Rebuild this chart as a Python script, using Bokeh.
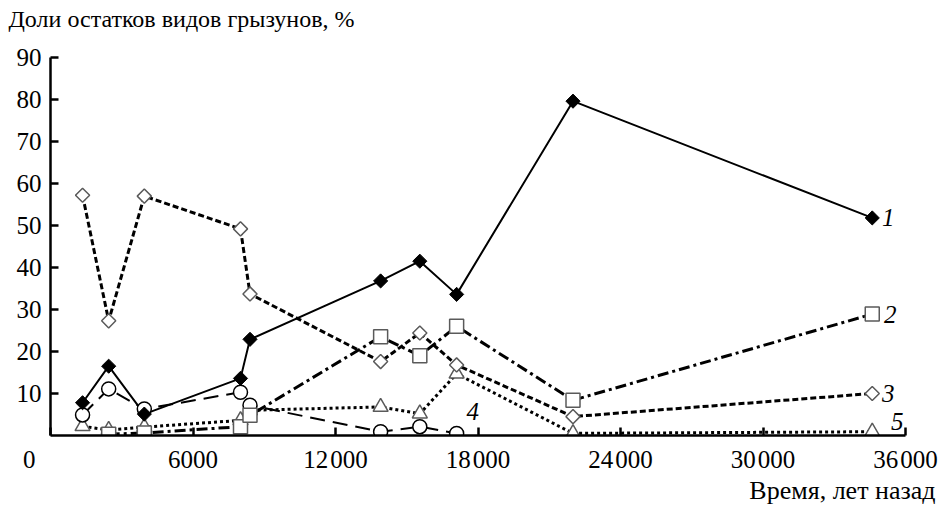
import math
from bokeh.plotting import figure
from bokeh.models import Range1d, FixedTicker, Title, Label
from bokeh.embed import file_html
from bokeh.resources import INLINE

# ---- data ----
years = [1350, 2450, 3950, 8000, 8400, 13900, 15550, 17100, 22000, 34600]
series1 = [7.8, 16.5, 5.1, 13.6, 22.9, 36.8, 41.5, 33.6, 79.6, 51.8]
years2 = [2450, 3950, 8000, 8400, 13900, 15550, 17100, 22000, 34600]
series2 = [0.3, 0.6, 2.1, 4.8, 23.5, 19.0, 26.0, 8.4, 28.9]
series3 = [57.2, 27.3, 57.0, 49.2, 33.7, 17.6, 24.4, 16.8, 4.5, 10.0]
years4 = [1350, 2450, 3950, 8000, 8400, 13900, 15550, 17100]
series4 = [4.9, 11.1, 6.3, 10.3, 7.2, 0.9, 2.1, 0.5]
series5 = [2.2, 1.3, 2.0, 3.6, 6.0, 6.8, 5.2, 14.7, 0.5, 0.9]

x_ticks = [0, 6000, 12000, 18000, 24000, 30000, 36000]
x_tick_labels = ["0\u2003\u2002\u2009", "6000", "12\u200a000", "18\u200a000",
                 "24\u200a000", "30\u200a000", "36\u200a000"]
y_ticks = [10, 20, 30, 40, 50, 60, 70, 80, 90]
series_names = ["1", "2", "3", "4", "5"]
title_text = "Доли остатков видов грызунов, %"
xlabel_text = "Время, лет назад"

FONT = "Liberation Serif"

p = figure(width=943, height=506, output_backend="svg", toolbar_location=None,
           x_range=Range1d(0, 36000), y_range=Range1d(0, 90),
           min_border_left=50, min_border_right=38, min_border_top=57, min_border_bottom=0)
p.outline_line_color = None
p.xgrid.visible = False
p.ygrid.visible = False
p.background_fill_color = "white"
p.border_fill_color = "white"

# a second (blank) line lifts the title away from the plot frame
p.title.text = title_text + "\n\u00a0"
p.title.text_font = FONT
p.title.text_font_size = "24px"
p.title.text_font_style = "normal"
p.title.align = "left"
p.title.vertical_align = "bottom"
p.title.offset = -42
p.title.standoff = 0
p.title.text_color = "black"

for ax in (p.xaxis[0], p.yaxis[0]):
    ax.axis_line_width = 2.5
    ax.axis_line_color = "black"
    ax.major_tick_in = 8
    ax.major_tick_out = 0
    ax.major_tick_line_width = 2.5
    ax.major_tick_line_color = "black"
    ax.minor_tick_line_color = None
    ax.major_label_text_font = FONT
    ax.major_label_text_font_size = "25px"
    ax.major_label_text_color = "black"

p.xaxis[0].ticker = FixedTicker(ticks=x_ticks)
p.xaxis[0].major_label_overrides = {t: l for t, l in zip(x_ticks, x_tick_labels)}
p.xaxis[0].major_label_standoff = 10
p.yaxis[0].ticker = FixedTicker(ticks=y_ticks)
p.yaxis[0].major_label_standoff = 9

p.add_layout(Title(text=xlabel_text, align="right", vertical_align="top", offset=-30, standoff=0,
                   text_font=FONT, text_font_size="26px", text_font_style="normal",
                   text_color="black"), "below")

GRAY = "#5a5a5a"
# lines
p.line(years2, series2, line_color="black", line_width=3, line_dash="11 4 3 4")
p.line(years, series3, line_color="black", line_width=3, line_dash="6 3")
p.line(years4, series4, line_color="black", line_width=2, line_dash="15 8")
p.line(years, series5, line_color="black", line_width=3, line_dash="3 3")
p.line(years, series1, line_color="black", line_width=2)

# markers
p.scatter(years, series5, marker="triangle", size=15,
          fill_color="white", line_color=GRAY, line_width=1.5)
p.scatter(years4, series4, marker="circle", size=14,
          fill_color="white", line_color="black", line_width=1.5)
p.scatter(years2, series2, marker="square", size=14,
          fill_color="white", line_color=GRAY, line_width=1.5)
p.scatter(years, series3, marker="square", size=10, angle=math.pi / 4,
          fill_color="white", line_color=GRAY, line_width=1.5)
p.scatter(years, series1, marker="square", size=10, angle=math.pi / 4,
          fill_color="black", line_color="black", line_width=1)

# curve numbers
ends = [(years[-1], series1[-1], 16, 0), (years2[-1], series2[-1], 18, 0),
        (years[-1], series3[-1], 16, 0), (years4[-1], series4[-1], 16, 22),
        (years[-1], series5[-1], 25, 10)]
for name, (x, y, dx, dy) in zip(series_names, ends):
    p.add_layout(Label(x=x, y=y, text=name, x_offset=dx, y_offset=dy,
                       text_align="center", text_baseline="middle",
                       text_font=FONT, text_font_size="25px", text_font_style="italic",
                       text_color="black"))

open("out.html", "w").write(file_html(p, INLINE))
